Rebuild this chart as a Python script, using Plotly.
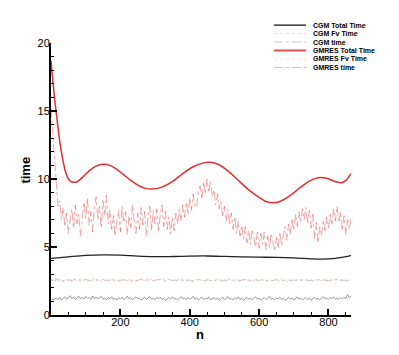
import plotly.graph_objects as go

# smooth curves (control points)
gmres_total_n = [0, 5, 10, 15, 20, 25, 30, 35, 40, 45, 50, 55, 65, 75, 90, 110, 130, 150, 170, 190,
                 210, 230, 250, 270, 294, 320, 350, 380, 410, 435, 456, 480, 510, 540, 570, 600,
                 620, 640, 660, 690, 720, 745, 770, 795, 815, 838, 850, 865]
gmres_total = [18.7, 17.3, 16.0, 14.9, 13.8, 12.8, 12.0, 11.3, 10.7, 10.3, 10.0, 9.85, 9.76, 9.8,
               10.1, 10.6, 10.95, 11.08, 11.0, 10.7, 10.3, 9.9, 9.55, 9.33, 9.26, 9.4, 9.8, 10.4,
               10.9, 11.15, 11.23, 11.1, 10.6, 9.9, 9.2, 8.65, 8.35, 8.26, 8.35, 8.8, 9.4, 9.85,
               10.1, 10.05, 9.85, 9.73, 9.9, 10.4]

cgm_total_n = [0, 50, 100, 150, 200, 250, 300, 350, 400, 450, 500, 550, 600, 650, 700, 750, 780,
               820, 865]
cgm_total = [4.17, 4.28, 4.38, 4.42, 4.40, 4.33, 4.29, 4.30, 4.33, 4.34, 4.31, 4.27, 4.25, 4.24,
             4.20, 4.13, 4.11, 4.17, 4.36]

# noisy series, every 5 iterations
n5 = list(range(0, 870, 5))
gmres_time = [
    15.2, 13.4, 11.5, 9.6, 8.0, 8.4, 7.0, 7.9, 6.5, 7.5,
    6.0, 7.0, 7.8, 6.4, 8.1, 6.7, 7.4, 5.8, 7.1, 8.3,
    7.1, 8.6, 6.6, 7.6, 6.1, 7.8, 8.7, 7.0, 8.0, 6.4,
    8.4, 7.3, 8.8, 6.7, 7.7, 6.2, 7.3, 5.8, 6.9, 7.7,
    6.1, 8.0, 6.8, 7.6, 5.9, 7.3, 6.4, 8.1, 6.9, 6.0,
    7.5, 6.3, 7.9, 6.6, 7.6, 5.8, 7.2, 8.0, 6.2, 7.7,
    6.7, 7.8, 6.1, 7.4, 8.1, 6.5, 7.6, 6.3, 7.2, 6.0,
    7.2, 6.2, 7.5, 6.7, 7.8, 6.9, 8.1, 7.2, 8.3, 7.4,
    8.6, 7.7, 8.9, 8.0, 7.9, 9.1, 9.5, 8.5, 9.8, 8.9,
    10.0, 9.1, 9.8, 8.7, 9.2, 8.1, 8.9, 7.8, 8.4, 7.2,
    8.0, 6.9, 7.8, 6.6, 7.5, 6.3, 7.2, 6.0, 6.9, 5.8,
    6.6, 5.6, 6.5, 5.3, 6.2, 5.2, 6.3, 5.5, 5.0, 6.1,
    4.9, 6.0, 5.2, 6.1, 4.8, 5.8, 5.0, 6.0, 5.2, 4.7,
    5.7, 4.9, 6.1, 5.1, 5.9, 6.5, 5.5, 6.7, 5.9, 7.1,
    6.2, 7.4, 6.5, 7.6, 6.8, 7.8, 7.0, 7.9, 6.7, 7.7,
    6.4, 7.4, 5.6, 6.8, 5.3, 6.5, 5.8, 7.0, 6.1, 7.2,
    6.4, 7.5, 6.6, 7.8, 6.9, 8.0, 6.8, 7.6, 6.2, 7.3,
    5.9, 7.0, 6.3, 7.1]
gmres_fv = [
    2.45, 2.62, 2.51, 2.70, 2.48, 2.58, 2.66, 2.44, 2.55, 2.63,
    2.50, 2.68, 2.47, 2.57, 2.61, 2.46, 2.54, 2.67, 2.49, 2.59,
    2.64, 2.45, 2.56, 2.52, 2.69, 2.48, 2.60, 2.53, 2.65, 2.47,
    2.58, 2.50, 2.62, 2.46, 2.55, 2.66, 2.49, 2.57, 2.44, 2.60,
    2.52, 2.63, 2.47, 2.56, 2.51, 2.59, 2.45, 2.54, 2.62, 2.48,
    2.57, 2.50, 2.64, 2.46, 2.53, 2.60, 2.49, 2.56, 2.67, 2.51,
    2.58, 2.47, 2.55, 2.63, 2.50, 2.61, 2.54, 2.72, 2.58, 2.66,
    2.52, 2.60, 2.48, 2.57, 2.64, 2.50, 2.55, 2.46, 2.59, 2.53,
    2.62, 2.49, 2.56, 2.51, 2.65, 2.47, 2.58, 2.54, 2.61, 2.48,
    2.55, 2.63, 2.50, 2.57, 2.46, 2.60, 2.52, 2.59, 2.45, 2.54,
    2.61, 2.49, 2.56, 2.64, 2.51, 2.58, 2.47, 2.55, 2.62, 2.50,
    2.57, 2.53, 2.66, 2.48, 2.59, 2.52, 2.60, 2.46, 2.56, 2.63,
    2.50, 2.58, 2.54, 2.61, 2.47, 2.55, 2.62, 2.49, 2.57, 2.52,
    2.64, 2.48, 2.56, 2.60, 2.51, 2.58, 2.45, 2.54, 2.61, 2.50,
    2.57, 2.53, 2.62, 2.47, 2.55, 2.59, 2.49, 2.56, 2.63, 2.51,
    2.58, 2.46, 2.54, 2.60, 2.52, 2.57, 2.48, 2.62, 2.55, 2.50,
    2.59, 2.53, 2.61, 2.47, 2.56, 2.63, 2.51, 2.58, 2.49, 2.55,
    2.60, 2.52, 2.57, 2.54]
cgm_fv = [
    1.05, 1.18, 1.10, 1.26, 1.12, 1.31, 1.08, 1.22, 1.35, 1.15,
    1.28, 1.42, 1.20, 1.33, 1.14, 1.27, 1.38, 1.19, 1.30, 1.16,
    1.36, 1.24, 1.29, 1.13, 1.40, 1.21, 1.32, 1.18, 1.26, 1.37,
    1.17, 1.25, 1.11, 1.29, 1.20, 1.34, 1.15, 1.23, 1.09, 1.27,
    1.19, 1.31, 1.14, 1.22, 1.38, 1.16, 1.28, 1.12, 1.24, 1.33,
    1.18, 1.26, 1.10, 1.21, 1.30, 1.15, 1.25, 1.36, 1.17, 1.23,
    1.13, 1.28, 1.19, 1.32, 1.14, 1.24, 1.08, 1.20, 1.29, 1.16,
    1.34, 1.18, 1.22, 1.11, 1.27, 1.35, 1.19, 1.25, 1.12, 1.30,
    1.17, 1.23, 1.38, 1.15, 1.26, 1.09, 1.21, 1.31, 1.14, 1.24,
    1.18, 1.33, 1.12, 1.22, 1.28, 1.16, 1.25, 1.07, 1.19, 1.30,
    1.13, 1.24, 1.35, 1.15, 1.21, 1.10, 1.27, 1.18, 1.32, 1.14,
    1.23, 1.08, 1.20, 1.29, 1.16, 1.26, 1.11, 1.22, 1.34, 1.17,
    1.24, 1.09, 1.19, 1.28, 1.13, 1.25, 1.37, 1.15, 1.21, 1.12,
    1.27, 1.18, 1.31, 1.14, 1.23, 1.06, 1.20, 1.29, 1.16, 1.25,
    1.10, 1.22, 1.33, 1.15, 1.24, 1.12, 1.19, 1.28, 1.14, 1.26,
    1.09, 1.21, 1.30, 1.17, 1.23, 1.11, 1.27, 1.35, 1.18, 1.24,
    1.13, 1.29, 1.20, 1.32, 1.16, 1.25, 1.14, 1.27, 1.19, 1.31,
    1.21, 1.50, 1.28, 1.40]

# every 10 iterations
n10 = list(range(0, 870, 10))
cgm_time = [
    2.58, 2.50, 2.63, 2.47, 2.55, 2.60, 2.52, 2.66, 2.49, 2.57,
    2.61, 2.54, 2.48, 2.59, 2.53, 2.64, 2.50, 2.56, 2.62, 2.47,
    2.55, 2.60, 2.51, 2.58, 2.46, 2.57, 2.63, 2.52, 2.59, 2.49,
    2.56, 2.62, 2.53, 2.48, 2.60, 2.54, 2.57, 2.50, 2.65, 2.52,
    2.58, 2.47, 2.56, 2.61, 2.51, 2.59, 2.54, 2.49, 2.63, 2.55,
    2.50, 2.58, 2.53, 2.60, 2.48, 2.57, 2.62, 2.51, 2.56, 2.59,
    2.52, 2.64, 2.49, 2.57, 2.54, 2.60, 2.47, 2.56, 2.61, 2.53,
    2.58, 2.50, 2.55, 2.62, 2.52, 2.57, 2.48, 2.59, 2.54, 2.60,
    2.51, 2.56, 2.63, 2.53, 2.58, 2.50, 2.57]

x_ticks = [200, 400, 600, 800]
y_ticks = [0, 5, 10, 15, 20]

RED = '#e0302e'

fig = go.Figure()

fig.add_trace(go.Scatter(x=n10, y=cgm_time, mode='lines',
                         line=dict(color='#b4b4b4', width=0.7, dash='dashdot')))
fig.add_trace(go.Scatter(x=n5, y=gmres_fv, mode='lines',
                         line=dict(color='#f2a6a6', width=0.7, dash='dot')))
fig.add_trace(go.Scatter(x=n5, y=cgm_fv, mode='lines',
                         line=dict(color='#555555', width=0.6)))
fig.add_trace(go.Scatter(x=n5, y=gmres_time, mode='lines',
                         line=dict(color='rgba(228,80,80,0.75)', width=0.7, dash='dashdot')))
fig.add_trace(go.Scatter(x=cgm_total_n, y=cgm_total, mode='lines', line_shape='spline',
                         line=dict(color='#222222', width=1.3)))
fig.add_trace(go.Scatter(x=gmres_total_n, y=gmres_total, mode='lines', line_shape='spline',
                         line=dict(color=RED, width=1.5)))

# legend drawn by hand (plotly's legend rows are too tall for this size)
legend_items = [
    ('CGM Total Time', '#111111', 1.3, 'solid'),
    ('CGM Fv Time', '#c8c8c8', 0.6, 'dot'),
    ('CGM time', '#bbbbbb', 0.8, 'dashdot'),
    ('GMRES Total Time', '#e85050', 2.0, 'solid'),
    ('GMRES Fv Time', '#f6d0d0', 0.6, 'dot'),
    ('GMRES time', '#f4a0a0', 0.8, 'dashdot'),
]
y0, dy = 1.066, 0.0312
for i, (name, col, w, dash) in enumerate(legend_items):
    yy = y0 - i * dy
    fig.add_shape(type='line', xref='paper', yref='paper', x0=0.743, x1=0.85, y0=yy, y1=yy,
                  line=dict(color=col, width=w, dash=dash))
    fig.add_annotation(xref='paper', yref='paper', x=0.865, y=yy, text='<b>%s</b>' % name,
                       showarrow=False, xanchor='left', yanchor='middle',
                       font=dict(size=7, color='black'))

fig.add_annotation(xref='paper', yref='paper', x=-0.088, y=0.533, text='<b>time</b>',
                   textangle=-90, showarrow=False, xanchor='center', yanchor='middle',
                   font=dict(size=13, color='black'))
fig.add_annotation(xref='paper', yref='paper', x=0.497, y=-0.072, text='<b>n</b>',
                   showarrow=False, xanchor='center', yanchor='middle',
                   font=dict(size=13, color='black'))

# the page body adds 8px around the figure, so margins are shifted to compensate
fig.update_layout(
    width=399, height=355,
    margin=dict(l=43, r=56, t=35, b=48),
    paper_bgcolor='white', plot_bgcolor='white',
    showlegend=False,
    font=dict(family='Liberation Sans, Arial, sans-serif', size=11, color='black'),
)
fig.update_xaxes(range=[0, 865], tickvals=x_ticks, ticks='inside', ticklen=6, tickwidth=2,
                 tickcolor='black', showline=True, linecolor='black', linewidth=2,
                 showgrid=False, zeroline=False, ticklabelstandoff=-4,
                 minor=dict(dtick=50, tick0=0, ticks='inside', ticklen=3, tickwidth=1,
                            tickcolor='black', showgrid=False))
fig.update_yaxes(range=[0, 20], tickvals=y_ticks, ticks='inside', ticklen=6, tickwidth=2,
                 tickcolor='black', showline=True, linecolor='black', linewidth=2,
                 showgrid=False, zeroline=False, ticklabelstandoff=-3,
                 minor=dict(dtick=1, tick0=0, ticks='inside', ticklen=3, tickwidth=1,
                            tickcolor='black', showgrid=False))

fig.write_html("out.html")
